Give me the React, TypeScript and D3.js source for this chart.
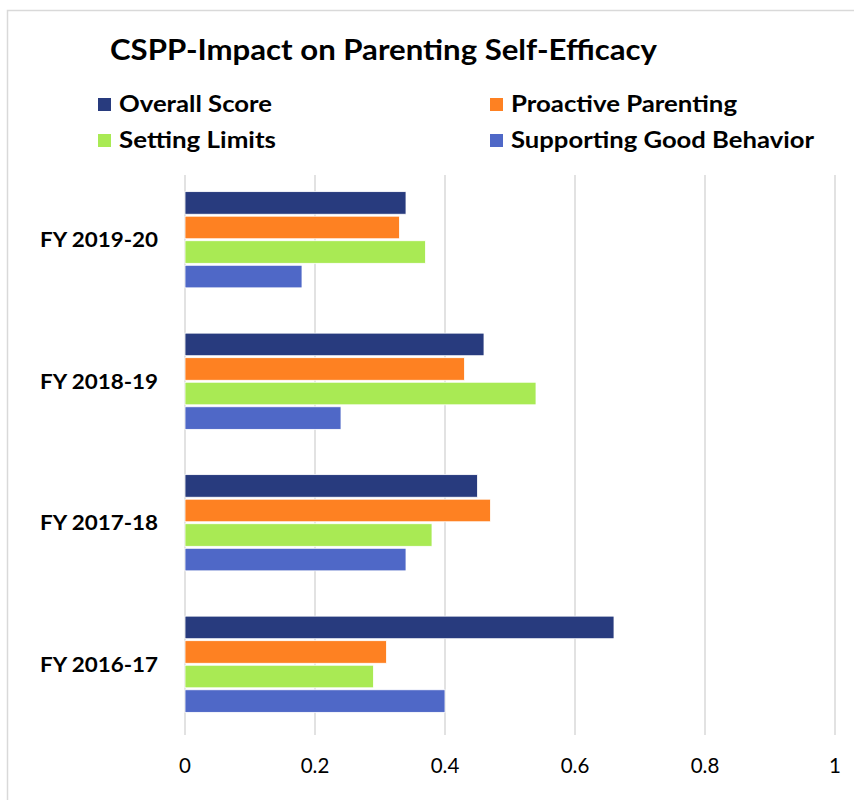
import React from "react";
import * as d3 from "d3";

const categories = ["FY 2019-20", "FY 2018-19", "FY 2017-18", "FY 2016-17"];
const seriesNames = ["Overall Score", "Proactive Parenting", "Setting Limits", "Supporting Good Behavior"];
const overallScore = [0.34, 0.46, 0.45, 0.66];
const proactiveParenting = [0.33, 0.43, 0.47, 0.31];
const settingLimits = [0.37, 0.54, 0.38, 0.29];
const supportingGoodBehavior = [0.18, 0.24, 0.34, 0.40];
const xTicks = [0, 0.2, 0.4, 0.6, 0.8, 1];
const colors = ["#283b7e", "#fe8122", "#a9ea54", "#4f68c7"];

const allSeries = [overallScore, proactiveParenting, settingLimits, supportingGoodBehavior];

export default function App() {
  const W = 854, H = 800;
  const left = 185, right = 835, top = 169, bottom = 735;
  const x = d3.scaleLinear().domain([0, 1]).range([left, right]);
  const y0 = d3.scaleBand().domain(categories).range([top, bottom]).paddingInner(0.32).paddingOuter(0.16);
  const y1 = d3.scaleBand().domain(seriesNames).range([0, y0.bandwidth()]).paddingInner(0.08);
  const font = "Lato, 'Open Sans', sans-serif";
  const legendPos = [
    { x: 98, y: 112, tl: 153 },
    { x: 490, y: 112, tl: 226 },
    { x: 98, y: 148, tl: 157 },
    { x: 490, y: 148, tl: 303 },
  ];
  return (
    <svg width={W} height={H} style={{ position: "absolute", left: 0, top: 0 }} fontFamily={font}>
      <rect x={0} y={0} width={W} height={H} fill="#fff" />
      <rect x={7.5} y={10.5} width={W + 10} height={H + 10} fill="none" stroke="#d9d9d9" strokeWidth={1.5} />
      <text x={110} y={60} fontSize={28.5} fontWeight={700} fill="#000" textLength={547} lengthAdjust="spacingAndGlyphs">
        CSPP-Impact on Parenting Self-Efficacy
      </text>
      {seriesNames.map((s, i) => (
        <g key={s}>
          <rect x={legendPos[i].x} y={legendPos[i].y - 14} width={13} height={13} fill={colors[i]} />
          <text x={legendPos[i].x + 21} y={legendPos[i].y} fontSize={22} fontWeight={700} fill="#000"
            textLength={legendPos[i].tl} lengthAdjust="spacingAndGlyphs">{s}</text>
        </g>
      ))}
      {xTicks.map((t) => (
        <g key={t}>
          <line x1={x(t)} x2={x(t)} y1={175} y2={bottom} stroke="#d9d9d9" strokeWidth={1.5} />
          <text x={x(t)} y={773} fontSize={20.5} textAnchor="middle" fill="#000">{d3.format("")(t)}</text>
        </g>
      ))}
      {categories.map((c, ci) => (
        <g key={c} transform={`translate(0,${y0(c)})`}>
          {seriesNames.map((s, si) => (
            <rect key={s} x={x(0)} y={y1(s)} width={x(allSeries[si][ci]) - x(0)} height={y1.bandwidth()}
              fill={colors[si]} stroke="#fff" strokeWidth={0.8} />
          ))}
          <text x={158} y={y0.bandwidth() / 2 + 7.5} fontSize={20.5} fontWeight={700} textAnchor="end" fill="#000"
            textLength={118} lengthAdjust="spacingAndGlyphs">{c}</text>
        </g>
      ))}
    </svg>
  );
}
